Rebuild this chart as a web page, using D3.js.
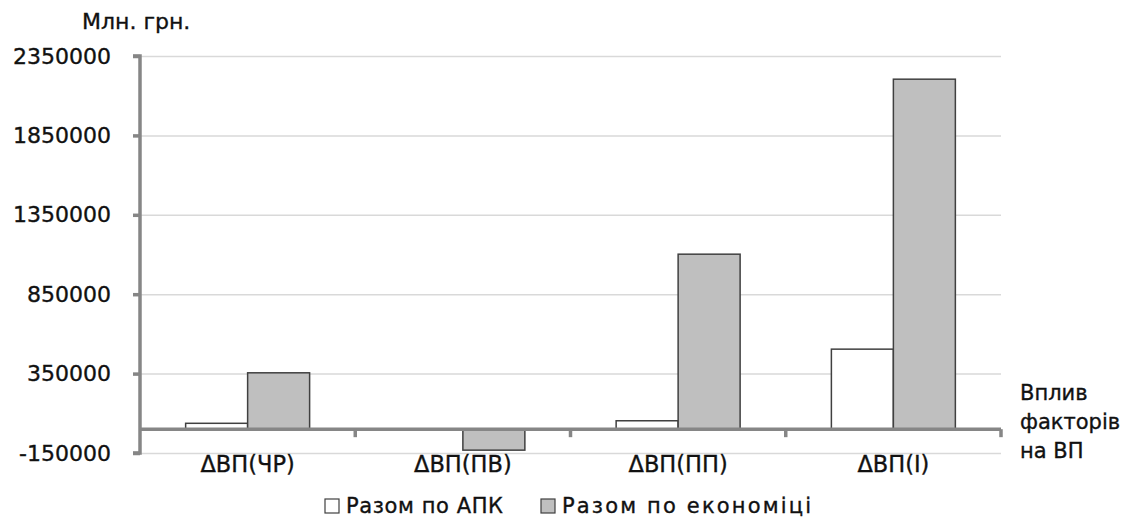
<!DOCTYPE html>
<html>
<head>
    <meta charset="utf-8">
    <style>
        body{
            margin: 0;
            background: white;
            font-family: 'DejaVu Sans', sans-serif;
        }
        svg text{
            fill: #111;
            stroke: #111;
            stroke-width: 0.35px;
        }
    </style>
</head>
<body>
    <svg width="1125" height="518"></svg>

<script src="https://d3js.org/d3.v7.min.js"></script>
<script>
    // values (млн грн)
    let categories = ["ΔВП(ЧР)", "ΔВП(ПВ)", "ΔВП(ПП)", "ΔВП(І)"]
    let seriesNames = ["Разом по АПК", "Разом по економіці"]
    let apk = [37000, 0, 53000, 504000]
    let economy = [355000, -132000, 1102000, 2204000]
    let yTicks = [-150000, 350000, 850000, 1350000, 1850000, 2350000]

    let colors = ["#ffffff", "#bfbfbf"]

    let plotLeft = 140, plotRight = 1001, plotTop = 56, plotBottom = 453
    let svg = d3.select("svg")

    let y = d3.scaleLinear()
        .domain([-150000, 2350000])
        .range([plotBottom, plotTop])

    let x = d3.scaleBand()
        .domain(categories)
        .range([plotLeft, plotRight])
        .paddingInner(0.424)
        .paddingOuter(0.212)

    let xInner = d3.scaleBand()
        .domain(seriesNames)
        .range([0, x.bandwidth()])

    // gridlines
    svg.append("g")
        .attr("transform", `translate(${plotLeft},0)`)
        .call(d3.axisLeft(y).tickValues(yTicks).tickSize(-(plotRight - plotLeft)).tickFormat(""))
        .call(g => g.select(".domain").remove())
        .call(g => g.selectAll("line").attr("stroke", "#d9d9d9").attr("stroke-width", 1.5))

    // bars
    let rows = categories.map((c, i) => ({cat: c, values: [apk[i], economy[i]]}))

    svg.append("g")
        .selectAll("g")
        .data(rows)
        .join("g")
        .attr("transform", d => `translate(${x(d.cat)},0)`)
        .selectAll("rect")
        .data(d => d.values.map((v, j) => ({name: seriesNames[j], value: v, j: j})))
        .join("rect")
        .attr("x", d => xInner(d.name))
        .attr("width", xInner.bandwidth())
        .attr("y", d => y(Math.max(0, d.value)))
        .attr("height", d => Math.abs(y(d.value) - y(0)))
        .attr("fill", d => colors[d.j])
        .attr("stroke", "#404040")
        .attr("stroke-width", 1.5)

    // y axis
    let yAxis = svg.append("g")
        .attr("transform", `translate(${plotLeft},0)`)
        .call(d3.axisLeft(y).tickValues(yTicks).tickSize(7).tickPadding(22).tickFormat(d => String(d)))
    yAxis.select(".domain").attr("stroke", "#868686").attr("stroke-width", 3.5)
        .attr("d", `M-7,${plotTop}H0V${plotBottom}H-7`)
    yAxis.selectAll(".tick line").attr("stroke", "#868686").attr("stroke-width", 3.5)
    yAxis.selectAll(".tick text")
        .attr("font-size", 22)
        .attr("font-family", "'DejaVu Sans', sans-serif")

    // horizontal axis at zero, ticks between categories
    let bounds = d3.range(categories.length + 1).map(i => plotLeft + i * x.step())
    svg.append("line")
        .attr("x1", plotLeft).attr("x2", plotRight)
        .attr("y1", y(0)).attr("y2", y(0))
        .attr("stroke", "#868686")
        .attr("stroke-width", 3.5)
    svg.append("g")
        .selectAll("line")
        .data(bounds.slice(1))
        .join("line")
        .attr("x1", d => d).attr("x2", d => d)
        .attr("y1", y(0)).attr("y2", y(0) + 8)
        .attr("stroke", "#868686")
        .attr("stroke-width", 3.5)

    svg.append("g")
        .selectAll("text")
        .data(categories)
        .join("text")
        .attr("x", d => x(d) + x.bandwidth() / 2)
        .attr("y", 472)
        .attr("text-anchor", "middle")
        .attr("font-size", 22.5)
        .text(d => d)

    // titles
    svg.append("text")
        .attr("x", 82)
        .attr("y", 29)
        .attr("font-size", 22)
        .text("Млн. грн.")

    let sideLabel = svg.append("text")
        .attr("x", 1020)
        .attr("font-size", 21)
    sideLabel.selectAll("tspan")
        .data(["Вплив", "факторів", "на ВП"])
        .join("tspan")
        .attr("x", 1020)
        .attr("y", (d, i) => 400 + i * 29)
        .text(d => d)

    // legend
    let legendX = [325, 541]
    let legendWidths = [157, 249]
    let legend = svg.append("g")
        .selectAll("g")
        .data(seriesNames)
        .join("g")
        .attr("transform", (d, i) => `translate(${legendX[i]},499)`)
    legend.append("rect")
        .attr("width", 14).attr("height", 14)
        .attr("fill", (d, i) => colors[i])
        .attr("stroke", "#404040")
        .attr("stroke-width", 1.2)
    legend.append("text")
        .attr("x", 21)
        .attr("y", 14)
        .attr("font-size", 21)
        .attr("textLength", (d, i) => legendWidths[i])
        .attr("lengthAdjust", "spacing")
        .text(d => d)
</script>
</body>
</html>
